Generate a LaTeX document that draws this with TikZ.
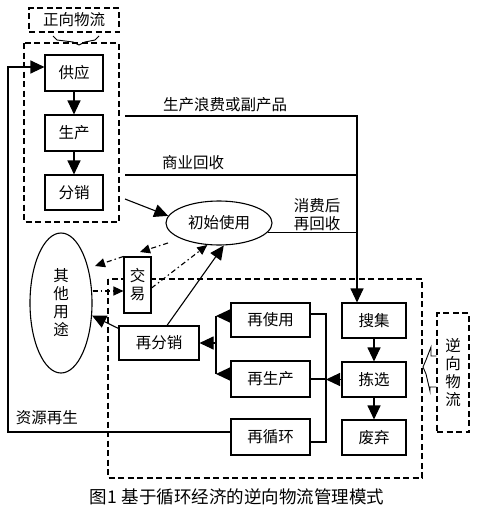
\documentclass[tikz,border=0pt]{standalone}
\usepackage{fontspec}
\newfontfamily\cjk{Noto Sans CJK SC}
\usetikzlibrary{arrows.meta,shapes.geometric}
\begin{document}
\begin{tikzpicture}[x=1pt,y=-1pt,line width=1.1pt,
  txt/.style={font=\cjk\fontsize{15.5}{18}\selectfont},
  box/.style={draw,rectangle,fill=white,inner sep=0pt,txt},
  ell/.style={draw,ellipse,fill=white,inner sep=0pt,txt},
  dbox/.style={draw,dash pattern=on 6pt off 3.5pt},
  arr/.style={-{Triangle[length=14pt,width=13pt]}},
  darr/.style={dash pattern=on 5pt off 3pt on 1.5pt off 3pt,-{Triangle[length=10pt,width=9pt]}},
  lbl/.style={inner sep=0pt,txt}]
\fill[white] (0,0) rectangle (480,514);
\useasboundingbox (0,0) rectangle (480,514);

% forward logistics
\node[dbox,rectangle,minimum width=90pt,minimum height=24pt,inner sep=0pt,txt] (zx) at (74,20) {正向物流};
\draw[line width=0.9pt] (53,36) -- (57,40) -- (73,42) -- (79,45);
\draw[line width=0.9pt] (99,36) -- (95,40) -- (85,42) -- (79,45);
\draw[dbox] (24,43) rectangle (119,222);
\node[box,minimum width=58pt,minimum height=36pt] (gy) at (74,73) {供应};
\node[box,minimum width=58pt,minimum height=36pt] (sc) at (74,133) {生产};
\node[box,minimum width=58pt,minimum height=35pt] (fx) at (74,192.5) {分销};
\draw[arr] (gy) -- (sc);
\draw[arr] (sc) -- (fx);

% reverse logistics frame
\draw[dbox] (108,279) rectangle (422,478);
\node[dbox,rectangle,minimum width=32pt,minimum height=119pt,inner sep=0pt,txt,align=center] (nx) at (453,372.5)
  {\baselineskip=20pt 逆\\向\\物\\流};
\draw[line width=0.9pt] (nx.west |- 0,356) -- (431,356) -- (431,347) -- (426,360) -- (423,367) -- (426,374) -- (430,391) -- (430,387) -- (nx.west |- 0,387);

% nodes
\node[ell,minimum width=106pt,minimum height=44pt] (csy) at (219,223) {初始使用};
\node[ell,minimum width=62pt,minimum height=140pt,align=center] (qt) at (61,303) {\baselineskip=18.5pt 其\\他\\用\\途};
\node[box,minimum width=27pt,minimum height=56pt,align=center] (jy) at (137.5,285) {\baselineskip=20pt 交\\易};
\node[box,minimum width=80pt,minimum height=34pt] (zfx) at (159,343) {再分销};
\node[box,minimum width=79pt,minimum height=34pt] (zsy) at (270.5,320) {再使用};
\node[box,minimum width=79pt,minimum height=36pt] (zsc) at (270.5,379) {再生产};
\node[box,minimum width=79pt,minimum height=36pt] (zxh) at (270.5,437) {再循环};
\node[box,minimum width=64pt,minimum height=35pt] (sj) at (374,320.5) {搜集};
\node[box,minimum width=64pt,minimum height=35pt] (jx) at (374,379.5) {拣选};
\node[box,minimum width=64pt,minimum height=35pt] (fq) at (374,437.5) {废弃};

% right-side return lines
\coordinate (p1) at (125,116);
\coordinate (p2) at (357,116);
\coordinate (q1) at (125,175);
\coordinate (q2) at (357,175);
\coordinate (c1) at (125,199);
\draw[arr] (p1) -- (p2) -- (sj.north -| p2);
\draw (q1) -- (q2);
\draw (csy.-11) -- (csy.-11 -| p2);
\draw[arr] (c1) -- (csy.172);
\node[lbl] (l1) at (225,105) {生产浪费或副产品};
\node[lbl] (l2) at (193,163) {商业回收};
\node[lbl,align=center] (l3) at (317,215) {\baselineskip=17pt 消费后\\再回收};

\draw[arr] (sj) -- (jx);
\draw[arr] (jx) -- (fq);

% right bus
\coordinate (b1) at (326,314);
\coordinate (b2) at (326,442);
\draw (zsy.east |- b1) -- (b1) -- (b2) -- (zxh.east |- b2);
\draw (zsc.east) -- (zsc.east -| b1);
\draw[arr] (jx.west) -- (jx.west -| b1);

% left bus
\coordinate (a1) at (216,316);
\coordinate (a2) at (216,374);
\draw (a1) -- (a2);
\draw[arr] (zsy.west |- a1) -- (a1);
\draw[arr] (zsc.west |- a2) -- (a2);
\draw[arr] (zfx.east -| a1) -- (zfx.east);

% redistribution
\draw[arr] ([xshift=8pt]zfx.north) -- (csy.-78);
\draw[arr] ([yshift=-3pt]zfx.north west) -- (qt.-22);

% dash-dot trade flows
\coordinate (t1) at (95,266);
\coordinate (t2) at (168,243);
\coordinate (t3) at (140,252);
\draw[darr] ([yshift=-6pt]jy.west -| qt.east) -- ([yshift=-6pt]jy.west);
\draw[darr] (jy.north west) -- (t1);
\draw[darr] (t2) -- (t3);
\draw[darr] ([yshift=-3pt]jy.east) -- (csy.-118);

% resource regeneration
\coordinate (r1) at (8,432);
\coordinate (r2) at (8,67);
\draw[arr] (zxh.west |- r1) -- (r1) -- (r2) -- (gy.west |- r2);
\node[lbl] (l4) at (47,418) {资源再生};

% caption
\node[inner sep=0pt,font=\cjk\fontsize{17.5}{20}\selectfont] (cap) at (237,497) {图1\hspace{0.3em}基于循环经济的逆向物流管理模式};
\end{tikzpicture}
\end{document}
